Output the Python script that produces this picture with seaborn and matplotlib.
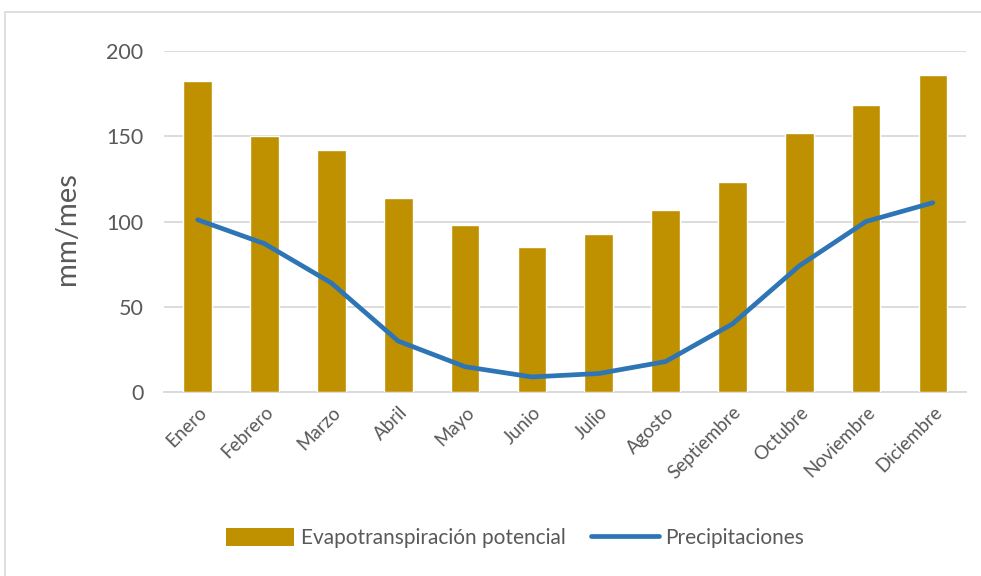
import numpy as np
import pandas as pd
import matplotlib
matplotlib.use("Agg")
import matplotlib.pyplot as plt
import seaborn as sns
from matplotlib.patches import Patch, Rectangle
from matplotlib.lines import Line2D

meses = ["Enero", "Febrero", "Marzo", "Abril", "Mayo", "Junio", "Julio",
         "Agosto", "Septiembre", "Octubre", "Noviembre", "Diciembre"]
evapotranspiracion = [182, 150, 142, 114, 98, 85, 92.5, 107, 123, 152, 168, 186]
precipitaciones = [101, 87, 64, 30, 15, 9, 11, 18, 40, 74, 100, 111]
y_ticks = [0, 50, 100, 150, 200]

BAR_COLOR = "#BF9000"
LINE_COLOR = "#2E75B6"
GRID_COLOR = "#D9D9D9"
TEXT_COLOR = "#595959"

sns.set_style("white")
plt.rcParams["font.family"] = ["Lato", "DejaVu Sans"]

df = pd.DataFrame({"mes": meses, "etp": evapotranspiracion,
                   "pp": precipitaciones, "idx": np.arange(len(meses))})

fig = plt.figure(figsize=(9.81, 5.76), dpi=100)
ax = fig.add_axes([0.1675, 0.3189, 0.8175, 0.5931])

# marco del gráfico
fig.patches.append(Rectangle((5 / 981, -0.1), 1.1, 1 - 12 / 576 + 0.1,
                             transform=fig.transFigure, fill=False,
                             edgecolor="#D9D9D9", linewidth=1.2))

sns.barplot(data=df, x="mes", y="etp", color=BAR_COLOR, width=0.43,
            saturation=1, ax=ax, zorder=3)
sns.lineplot(data=df, x="idx", y="pp", color=LINE_COLOR, linewidth=3.4,
             ax=ax, zorder=4, solid_capstyle="round")

ax.set_xlim(-0.5, len(meses) - 0.5)
ax.set_ylim(0, 200)
ax.set_yticks(y_ticks)
ax.set_xticks(range(len(meses)))
ax.set_xticklabels(meses, rotation=45, ha="right", rotation_mode="anchor")
ax.grid(axis="y", color=GRID_COLOR, linewidth=1.3, zorder=0)
ax.set_axisbelow(True)
for spine in ["top", "right", "left"]:
    ax.spines[spine].set_visible(False)
ax.spines["bottom"].set_color(GRID_COLOR)
ax.spines["bottom"].set_linewidth(1.3)

ax.tick_params(axis="y", length=0, pad=15, labelsize=15.5, labelcolor=TEXT_COLOR)
ax.tick_params(axis="x", length=0, pad=8, labelsize=13.5, labelcolor=TEXT_COLOR)
ax.set_xlabel("")
ax.set_ylabel("mm/mes", fontsize=21, color=TEXT_COLOR)
ax.yaxis.set_label_coords(-0.105, 0.48)

handles = [Patch(facecolor=BAR_COLOR, edgecolor="none"),
           Line2D([0], [0], color=LINE_COLOR, linewidth=3.4, solid_capstyle="round")]
fig.legend(handles, ["Evapotranspiración potencial", "Precipitaciones"],
           loc="center", bbox_to_anchor=(515 / 981, 1 - 538 / 576), ncol=2,
           frameon=False, fontsize=15, labelcolor=TEXT_COLOR,
           handlelength=3.3, handleheight=0.95, columnspacing=1.2, handletextpad=0.3)

fig.savefig("out.png", dpi=100)
